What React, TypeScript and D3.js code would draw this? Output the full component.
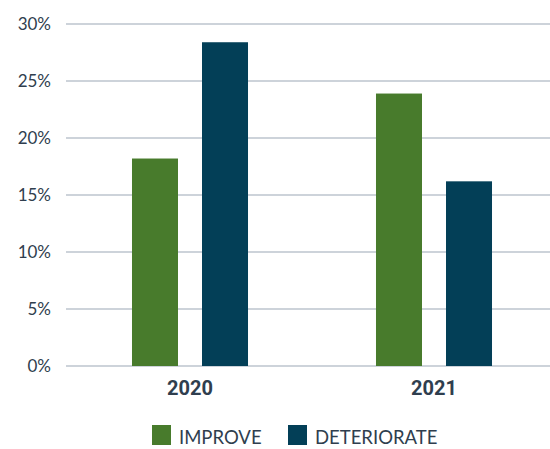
import React from 'react';
import * as d3 from 'd3';

const years = ['2020', '2021'];
const series = ['IMPROVE', 'DETERIORATE'];
const improve = [18.2, 23.9];
const deteriorate = [28.4, 16.2];
const yTicks = [0, 5, 10, 15, 20, 25, 30];
const colors = ['#487b2c', '#033f57'];

const W = 550;
const H = 449;

function App() {
  const y = d3.scaleLinear().domain([0, 30]).range([366, 24]);
  const x0 = d3.scaleBand().domain(years).range([68, 556]);
  const x1 = d3
    .scaleBand()
    .domain(series)
    .range([0, x0.bandwidth()])
    .paddingInner(0.343)
    .paddingOuter(0.914);

  const values = [improve, deteriorate];
  const textColor = '#2f3e4e';

  return (
    <svg
      width={W}
      height={H}
      style={{ position: 'absolute', left: 0, top: 0, background: '#fff' }}
    >
      {/* gridlines + y labels */}
      {yTicks.map((t) => (
        <g key={t}>
          <line x1={66} x2={550} y1={y(t)} y2={y(t)} stroke="#bcc5ce" strokeWidth={1.5} />
          <text
            x={51}
            y={y(t)}
            dy="0.33em"
            textAnchor="end"
            fontFamily="Lato, sans-serif"
            fontSize={17}
            fill={textColor}
          >
            {t}%
          </text>
        </g>
      ))}

      {/* bars */}
      {years.map((yr, i) => (
        <g key={yr} transform={`translate(${x0(yr)},0)`}>
          {series.map((s, j) => (
            <rect
              key={s}
              x={x1(s)}
              y={y(values[j][i])}
              width={x1.bandwidth()}
              height={y(0) - y(values[j][i])}
              fill={colors[j]}
            />
          ))}
        </g>
      ))}

      {/* x labels */}
      {years.map((yr) => (
        <text
          key={yr}
          x={(x0(yr) as number) + x0.bandwidth() / 2}
          y={395}
          textAnchor="middle"
          fontFamily="Roboto, sans-serif"
          fontWeight="bold"
          fontSize={20}
          fill={textColor}
        >
          {yr}
        </text>
      ))}

      {/* legend */}
      {series.map((s, j) => {
        const lx = j === 0 ? 152 : 288;
        return (
          <g key={s}>
            <rect x={lx} y={425} width={19} height={20} fill={colors[j]} />
            <text
              x={lx + 27}
              y={444}
              fontFamily="Lato, sans-serif"
              fontSize={18.5}
              fill={textColor}
            >
              {s}
            </text>
          </g>
        );
      })}
    </svg>
  );
}

export default App;
